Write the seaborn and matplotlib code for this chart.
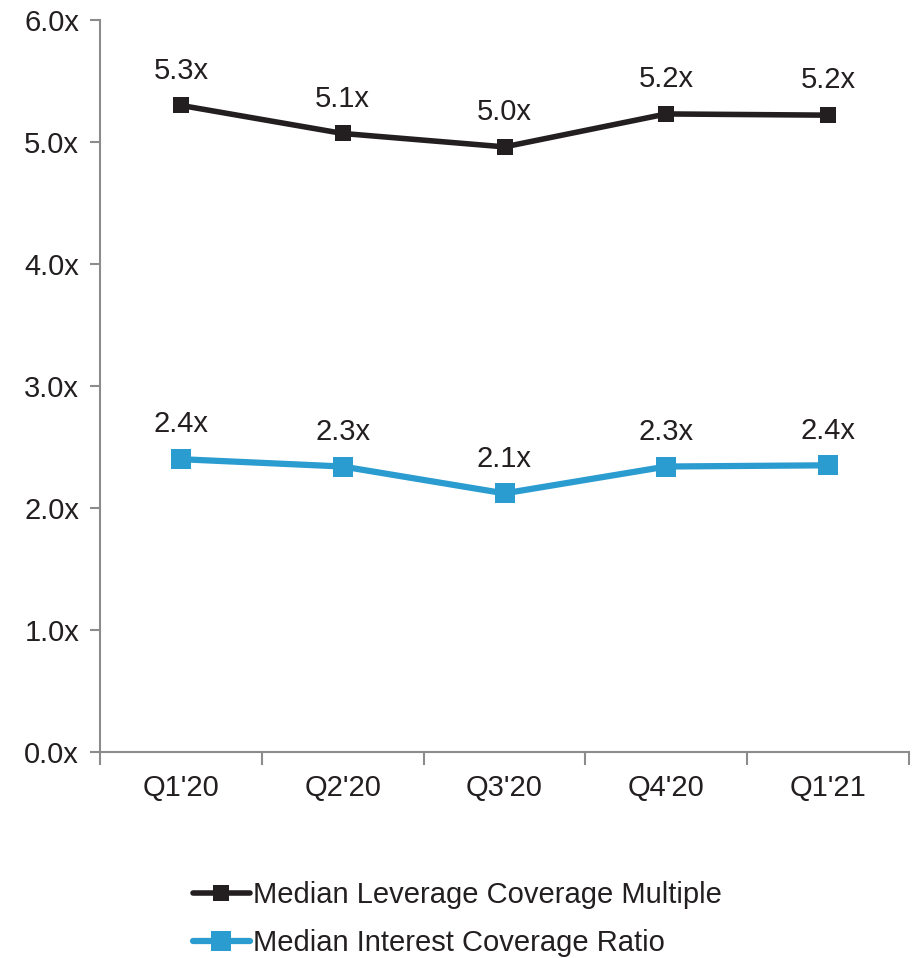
import matplotlib
matplotlib.use("Agg")
import matplotlib.pyplot as plt
import seaborn as sns
import pandas as pd
from matplotlib.ticker import FixedLocator, FuncFormatter

quarters = ["Q1'20", "Q2'20", "Q3'20", "Q4'20", "Q1'21"]
leverage = [5.30, 5.07, 4.96, 5.23, 5.22]
interest = [2.40, 2.34, 2.12, 2.34, 2.35]
leverage_labels = ["5.3x", "5.1x", "5.0x", "5.2x", "5.2x"]
interest_labels = ["2.4x", "2.3x", "2.1x", "2.3x", "2.4x"]
series_names = ["Median Leverage Coverage Multiple", "Median Interest Coverage Ratio"]
colors = ["#231f20", "#2b9ccf"]
FS = 21

sns.set_theme(style="white")
plt.rcParams['font.family'] = ['Liberation Sans', 'DejaVu Sans']

df = pd.DataFrame({
    "quarter": quarters * 2,
    "x": list(range(len(quarters))) * 2,
    "value": leverage + interest,
    "series": [series_names[0]] * 5 + [series_names[1]] * 5,
})

fig = plt.figure(figsize=(9.18, 9.58), dpi=100)
ax = fig.add_axes([100/918, 1 - 752/958, 809/918, 732/958])

sns.lineplot(data=df[df.series == series_names[0]], x="x", y="value", ax=ax,
             color=colors[0], linewidth=4, marker="s", markersize=11,
             markeredgewidth=0, label=series_names[0])
sns.lineplot(data=df[df.series == series_names[1]], x="x", y="value", ax=ax,
             color=colors[1], linewidth=4.5, marker="s", markersize=14,
             markeredgewidth=0, label=series_names[1])

for vals, labs in ((leverage, leverage_labels), (interest, interest_labels)):
    for i, (v, t) in enumerate(zip(vals, labs)):
        ax.annotate(t, (i, v), xytext=(0, 25), textcoords="offset points",
                    ha="center", va="center", fontsize=FS, color="#231f20")

ax.set_xlim(-0.5, 4.5)
ax.set_ylim(0, 6)
ax.set_xticks(range(len(quarters)))
ax.set_xticklabels(quarters)
ax.xaxis.set_minor_locator(FixedLocator([-0.5, 0.5, 1.5, 2.5, 3.5, 4.5]))
ax.set_yticks([0, 1, 2, 3, 4, 5, 6])
ax.yaxis.set_major_formatter(FuncFormatter(lambda v, p: f"{v:.1f}x"))
ax.tick_params(axis="x", which="major", length=0, pad=16, labelsize=FS, labelcolor="#231f20")
ax.tick_params(axis="x", which="minor", length=9, width=1.5, color="#8c8c8c", direction="out", bottom=True)
ax.tick_params(axis="y", which="major", length=7, width=1.5, color="#8c8c8c", direction="out",
               left=True, labelsize=FS, labelcolor="#231f20", pad=8)
ax.set_xlabel("")
ax.set_ylabel("")
for s in ["top", "right"]:
    ax.spines[s].set_visible(False)
for s in ["left", "bottom"]:
    ax.spines[s].set_color("#8c8c8c")
    ax.spines[s].set_linewidth(1.5)

handles, labels = ax.get_legend_handles_labels()
if ax.legend_:
    ax.legend_.remove()
fig.legend(handles, labels, loc="upper left", bbox_to_anchor=(193/918, 1 - 881/958),
           frameon=False, fontsize=FS, handlelength=1.95, handletextpad=0.12,
           labelspacing=0.68, borderaxespad=0, borderpad=0, labelcolor="#231f20")

fig.savefig("out.png", dpi=100)
